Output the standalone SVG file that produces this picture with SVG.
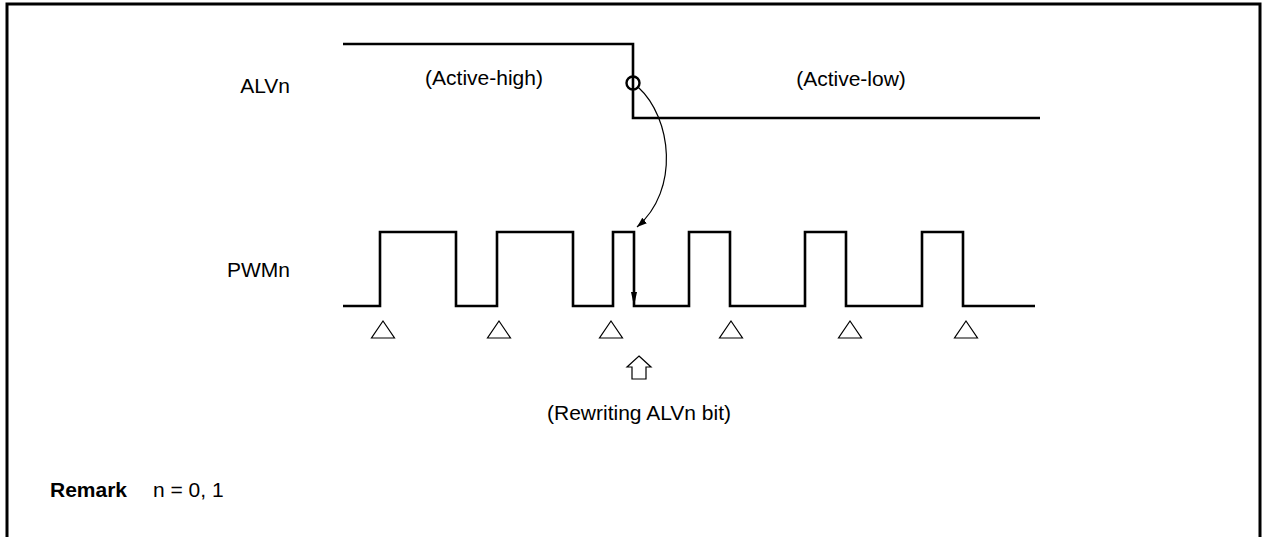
<svg xmlns="http://www.w3.org/2000/svg" width="1262" height="537" viewBox="0 0 1262 537">
<style>
.t{font-family:"Liberation Sans",Arial,sans-serif;font-size:21px;fill:#000}
.b{font-weight:bold}
.w{fill:none;stroke:#000;stroke-width:2.6;stroke-linejoin:miter}
.thin{fill:none;stroke:#000;stroke-width:1.2}
.tri{fill:#fff;stroke:#000;stroke-width:1.2}
</style>
<defs>
<marker id="ah" viewBox="0 0 10 10" refX="10" refY="5" markerWidth="10" markerHeight="10" markerUnits="userSpaceOnUse" orient="auto">
<path d="M0,1.5 L10,5 L0,8.5 Z" fill="#000"/>
</marker>
<marker id="ah2" viewBox="0 0 14 8" refX="14" refY="4" markerWidth="14" markerHeight="8" markerUnits="userSpaceOnUse" orient="auto">
<path d="M0,1 L14,4 L0,7 Z" fill="#000"/>
</marker>
</defs>
<rect width="1262" height="537" fill="#fff"/>
<path id="frame" d="M7,537 V4 H1260 V537" fill="none" stroke="#000" stroke-width="3"/>
<g id="alvn">
<text class="t" x="290" y="93" text-anchor="end">ALVn</text>
<path class="w" d="M343,44 H633 V118 H1040"/>
<circle cx="633" cy="83" r="6.5" fill="none" stroke="#000" stroke-width="2.4"/>
<text class="t" x="484" y="85" text-anchor="middle">(Active-high)</text>
<text class="t" x="851" y="86" text-anchor="middle">(Active-low)</text>
</g>
<g id="pwmn">
<text class="t" x="290" y="277" text-anchor="end">PWMn</text>
<path class="w" d="M343,306 H380 V232 H456 V306 H497 V232 H573 V306 H613 V232 H634 V306 H689 V232 H730 V306 H805 V232 H846 V306 H922 V232 H963 V306 H1035"/>
</g>
<g id="triangles">
<polygon class="tri" points="383,321 394.5,338 371.5,338"/>
<polygon class="tri" points="499,321 510.5,338 487.5,338"/>
<polygon class="tri" points="611,321 622.5,338 599.5,338"/>
<polygon class="tri" points="731,321 742.5,338 719.5,338"/>
<polygon class="tri" points="850,321 861.5,338 838.5,338"/>
<polygon class="tri" points="966,321 977.5,338 954.5,338"/>
</g>
<g id="rewrite">
<polygon class="tri" points="639,356 651,367 646,367 646,379 632,379 632,367 627,367"/>
<text class="t" x="639" y="420" text-anchor="middle">(Rewriting ALVn bit)</text>
</g>
<g id="connectors">
<path class="thin" d="M638,87 C672,118 680,190 637,227" marker-end="url(#ah)"/>
<path d="M634,240 V306" fill="none" stroke="#000" stroke-width="1" marker-end="url(#ah2)"/>
</g>
<g id="remark">
<text class="t b" x="50" y="497">Remark</text>
<text class="t" x="153" y="497">n = 0, 1</text>
</g>
</svg>
